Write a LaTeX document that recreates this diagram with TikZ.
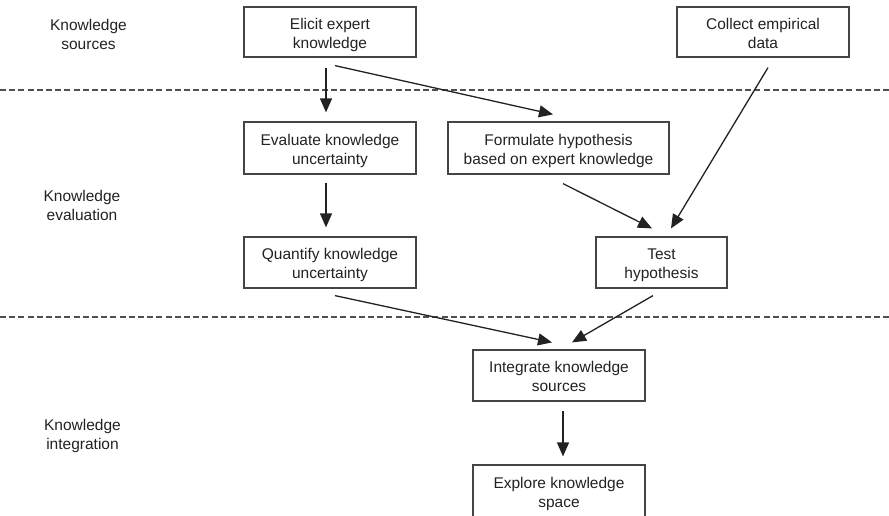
\documentclass[tikz,border=0pt]{standalone}
\usepackage{fontspec}
\setmainfont{Liberation Sans}
\usetikzlibrary{arrows.meta,calc}
\definecolor{ink}{HTML}{222222}
\definecolor{frame}{HTML}{444444}
\definecolor{sepgray}{HTML}{505050}
% two-line box text, padded on top so it sits slightly low in its frame
\newcommand\boxtxt[1]{\raisebox{0pt}[\dimexpr\height+6pt\relax][\depth]{\begin{tabular}{@{}c@{}}#1\end{tabular}}}
\begin{document}
\begin{tikzpicture}[x=1pt,y=-1pt,
  every node/.style={font=\fontsize{15.5}{19}\selectfont, text=ink},
  box/.style={draw=frame, line width=1.2pt, inner sep=0pt, minimum height=51pt},
  flow/.style={draw=ink, line width=1.3pt, -{Triangle[length=14pt,width=12pt]}},
  divider/.style={draw=sepgray, line width=2pt, dash pattern=on 6pt off 3.2pt},
  tier/.style={align=center}]
\useasboundingbox (0,0) rectangle (889,515);

% stage labels on the left
\node[tier] (lsrc) at (88.5,34) {Knowledge\\sources};
\node[tier] (leval) at (82,205.5) {Knowledge\\evaluation};
\node[tier] (lint) at (82.5,435.5) {Knowledge\\integration};

% stage dividers
\coordinate (d1l) at (0,90);   \coordinate (d1r) at (889,90);
\coordinate (d2l) at (0,317);  \coordinate (d2r) at (889,317);
\draw[divider] (d1l) -- (d1r);
\draw[divider] (d2l) -- (d2r);

% process boxes
\node[box, minimum width=172pt, minimum height=50pt] (elicit) at (330,32) {\boxtxt{Elicit expert\\knowledge}};
\node[box, minimum width=172pt, minimum height=50pt] (collect) at (763,32) {\boxtxt{Collect empirical\\data}};
\node[box, minimum width=172pt, minimum height=52pt] (evaluate) at (330,148) {\boxtxt{Evaluate knowledge\\uncertainty}};
\node[box, minimum width=221pt, minimum height=52pt] (formulate) at (558.5,148) {\boxtxt{Formulate hypothesis\\based on expert knowledge}};
\node[box, minimum width=172pt] (quantify) at (330,262.5) {\boxtxt{Quantify knowledge\\uncertainty}};
\node[box, minimum width=131pt] (test) at (661.5,262.5) {\boxtxt{Test\\hypothesis}};
\node[box, minimum width=172pt] (integrate) at (559,375.5) {\boxtxt{Integrate knowledge\\sources}};
\node[box, minimum width=172pt, minimum height=52pt] (explore) at (559,491) {\boxtxt{Explore knowledge\\space}};

% connectors
\draw[flow] ($(elicit.south)+(-4,10)$) -- ($(evaluate.north)+(-4,-9)$);
\draw[flow] ($(elicit.south)+(5,8)$) -- ($(formulate.north)+(-5.5,-7)$);
\draw[flow] ($(evaluate.south)+(-4,8)$) -- ($(quantify.north)+(-4,-9)$);
\draw[flow] ($(formulate.south)+(4.5,9)$) -- ($(test.north)+(-9.5,-8)$);
\draw[flow] ($(collect.south)+(5,10)$) -- ($(test.north)+(9.5,-8)$);
\draw[flow] ($(quantify.south)+(5,7)$) -- ($(integrate.north)+(-7,-7)$);
\draw[flow] ($(test.south)+(-8.5,7)$) -- ($(integrate.north)+(13,-7)$);
\draw[flow] ($(integrate.south)+(4,9)$) -- ($(explore.north)+(4,-8)$);
\end{tikzpicture}
\end{document}
